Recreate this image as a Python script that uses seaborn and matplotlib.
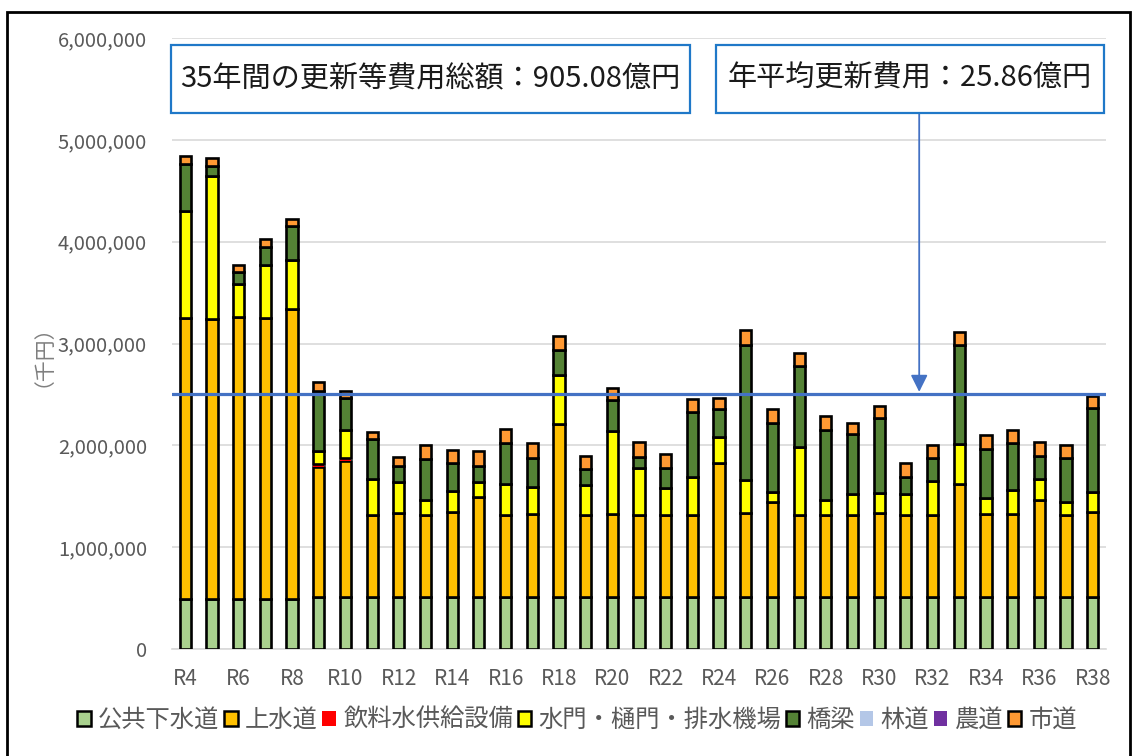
import numpy as np
import pandas as pd
import matplotlib
matplotlib.use("Agg")
import matplotlib.pyplot as plt
from matplotlib.patches import Patch, Rectangle
from matplotlib.ticker import FuncFormatter
import seaborn as sns

# ---------------- data (千円) ----------------
years = [f"R{i}" for i in range(4, 39)]

gesui = [487000] * 5 + [512000] * 30  # 公共下水道
josui = [2766000, 2756000, 2772000, 2759000, 2847000, 1278000, 1337000, 806000, 822000, 799000,
         838000, 978000, 799000, 809000, 1702000, 799000, 815000, 799000, 799000, 799000,
         1315000, 825000, 929000, 799000, 799000, 799000, 825000, 799000, 799000, 1109000,
         809000, 809000, 956000, 799000, 838000]  # 上水道
inryo = [0, 0, 0, 0, 0, 27000, 23000] + [0] * 28  # 飲料水供給設備
suimon = [1053000, 1403000, 326000, 529000, 490000, 130000, 278000, 352000, 303000, 154000,
          206000, 154000, 310000, 267000, 477000, 300000, 809000, 464000, 274000, 375000,
          250000, 323000, 98000, 669000, 157000, 212000, 196000, 212000, 343000, 392000,
          159000, 245000, 202000, 130000, 196000]  # 水門・樋門・排水機場
kyoryo = [457000, 101000, 115000, 169000, 326000, 587000, 319000, 392000, 163000, 401000,
          267000, 156000, 398000, 288000, 241000, 157000, 307000, 113000, 195000, 643000,
          278000, 1324000, 685000, 799000, 685000, 587000, 734000, 163000, 218000, 968000,
          484000, 456000, 228000, 431000, 819000]  # 橋梁
rindo = [0] * 35  # 林道
nodo = [0] * 35  # 農道
shido = [78000, 71000, 75000, 82000, 75000, 91000, 65000, 71000, 82000, 140000,
         131000, 140000, 140000, 143000, 140000, 123000, 124000, 140000, 135000, 124000,
         114000, 144000, 131000, 130000, 137000, 114000, 120000, 137000, 131000, 134000,
         136000, 131000, 130000, 131000, 120000]  # 市道

series_names = ["公共下水道", "上水道", "飲料水供給設備", "水門・樋門・排水機場", "橋梁", "林道", "農道", "市道"]
series_values = [gesui, josui, inryo, suimon, kyoryo, rindo, nodo, shido]
series_colors = ["#A9D18E", "#FFC000", "#FF0000", "#FFFF00", "#548235", "#B4C7E7", "#7030A0", "#FF9933"]
series_edges = ["black", "black", "none", "black", "black", "none", "none", "black"]

avg_line_value = 2500000
total_text = "35年間の更新等費用総額：905.08億円"
avg_text = "年平均更新費用：25.86億円"
yticks = [0, 1000000, 2000000, 3000000, 4000000, 5000000, 6000000]
xtick_labels = years[::2]

# ---------------- style ----------------
sns.set_style("white")
plt.rcParams['font.family'] = ['Noto Sans CJK JP', 'DejaVu Sans']

W, H = 1132, 756
fig = plt.figure(figsize=(W / 100, H / 100), dpi=100)
ax = fig.add_axes([172 / W, 1 - 649 / H, (1106 - 172) / W, (649 - 38) / H])

bottom = np.zeros(len(years))
for name, vals, col, ec in zip(series_names, series_values, series_colors, series_edges):
    vals = np.asarray(vals, dtype=float)
    df = pd.DataFrame({"year": years, "value": vals})
    sns.barplot(data=df, x="year", y="value", order=years, color=col, saturation=1,
                width=0.42, edgecolor=ec, linewidth=1.9, errorbar=None,
                bottom=bottom.copy(), ax=ax, zorder=3)
    bottom = bottom + vals

ax.set_ylim(0, 6000000)
ax.set_xlim(-0.5, len(years) - 0.5)
ax.set_yticks(yticks)
ax.yaxis.set_major_formatter(FuncFormatter(lambda v, p: f"{int(v):,}"))
ax.set_xticks(range(0, len(years), 2))
ax.set_xticklabels(xtick_labels)
ax.grid(axis="y", color="#D9D9D9", linewidth=1.2, zorder=0)
ax.set_axisbelow(True)
for s in ["top", "right", "left"]:
    ax.spines[s].set_visible(False)
ax.spines["bottom"].set_color("#D9D9D9")
ax.spines["bottom"].set_linewidth(1.2)
ax.tick_params(axis="y", length=0, pad=18, labelsize=14.5, labelcolor="#595959")
ax.tick_params(axis="x", length=0, pad=14, labelsize=15, labelcolor="#595959")
ax.set_xlabel("")
ax.set_ylabel("")

# average line
ax.axhline(avg_line_value, color="#4472C4", linewidth=2.3, zorder=4)

# y label
fig.text(33 / W, 1 - 345 / H, "（千円）", rotation=90, ha="center", va="center",
         fontsize=15, color="#7F7F7F")

# text boxes
box_ec = "#1F78C8"
for (x0, x1, y0, y1, txt) in [(171, 690, 45, 113, total_text), (716, 1104, 45, 113, avg_text)]:
    fig.add_artist(Rectangle((x0 / W, 1 - y1 / H), (x1 - x0) / W, (y1 - y0) / H,
                             transform=fig.transFigure, facecolor="white",
                             edgecolor=box_ec, linewidth=1.6, zorder=5))
    fig.text((x0 + x1) / 2 / W, 1 - (y0 + y1) / 2 / H, txt, ha="center", va="center",
             fontsize=21, color="#1A1A1A", zorder=6)

# arrow
arrow_x = 27.5
ax.annotate("", xy=(arrow_x, 2525000), xytext=(arrow_x, 5270000),
            arrowprops=dict(arrowstyle="-|>,head_length=0.6,head_width=0.3",
                            mutation_scale=17, color="#4472C4", lw=1.3,
                            shrinkA=0, shrinkB=0), zorder=6, annotation_clip=False)

# legend
handles = [Patch(facecolor=c, edgecolor=(e if e != "none" else c), linewidth=1.8 if e != "none" else 0)
           for c, e in zip(series_colors, series_edges)]
leg = fig.legend(handles, series_names, loc="center", bbox_to_anchor=(0.51, 1 - 720 / H),
                 ncol=8, frameon=False, fontsize=17.5, handlelength=0.55, handleheight=0.55,
                 handletextpad=0.3, columnspacing=0.2, borderaxespad=0)
for t in leg.get_texts():
    t.set_color("#595959")

# outer frame
fig.add_artist(Rectangle((7 / W, -0.05), (1130 - 7) / W, 1 - 12 / H + 0.05,
                         transform=fig.transFigure, facecolor="none", edgecolor="black",
                         linewidth=2, zorder=10))

fig.savefig("out.png", dpi=100)
